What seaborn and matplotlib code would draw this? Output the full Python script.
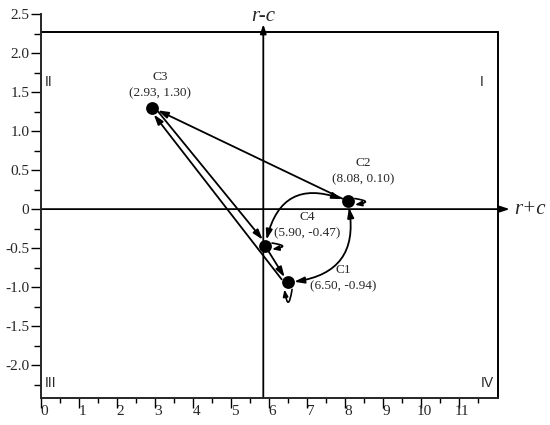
import numpy as np
import pandas as pd
import seaborn as sns
import matplotlib.pyplot as plt
import matplotlib.transforms as mtransforms

clusters = ["C1", "C2", "C3", "C4"]
r_plus_c = [6.50, 8.08, 2.93, 5.90]
r_minus_c = [-0.94, 0.10, 1.30, -0.47]

# straight transitions (from, to)
straight_moves = [("C2", "C3"), ("C1", "C3"), ("C3", "C4"), ("C4", "C1")]
# curved two-way links (a, b, bend)
curved_moves = [("C4", "C2", -0.6), ("C1", "C2", 0.55)]
# clusters that keep their state
stay_moves = ["C1", "C2", "C4"]

quadrants = ["I", "II", "III", "IV"]
x_ticks = list(range(0, 12))
x_tick_labels = [str(v) for v in x_ticks]
y_ticks = [-2.0, -1.5, -1.0, -0.5, 0, 0.5, 1.0, 1.5, 2.0, 2.5]
y_tick_labels = ["-2.0", "-1.5", "-1.0", "-0.5", "0", "0.5", "1.0", "1.5", "2.0", "2.5"]

df = pd.DataFrame({"cluster": clusters, "r_plus_c": r_plus_c, "r_minus_c": r_minus_c})
pos = {c: (x, y) for c, x, y in zip(clusters, r_plus_c, r_minus_c)}
x_mean = np.mean(r_plus_c)

sns.set_theme(style="ticks")
plt.rcParams['font.family'] = ['Liberation Serif', 'DejaVu Serif']

fig = plt.figure(figsize=(5.5, 4.25), dpi=100)
ax = fig.add_axes([41 / 550, 27 / 425, 471 / 550, 384 / 425])

x_lo, x_box, x_hi = 0, 12.03, 12.4
y_lo, y_box, y_hi = -2.42, 2.27, 2.5

sns.scatterplot(data=df, x="r_plus_c", y="r_minus_c", color="black", s=85,
                linewidth=0, ax=ax, legend=False, zorder=5)
ax.set_xlabel("")
ax.set_ylabel("")
ax.set_xlim(x_lo, x_hi)
ax.set_ylim(y_lo, y_hi)

# frame
for s in ["top", "right"]:
    ax.spines[s].set_visible(False)
ax.spines["bottom"].set_bounds(x_lo, x_box)
ax.spines["left"].set_linewidth(1.4)
ax.spines["bottom"].set_linewidth(1.4)
ax.plot([x_lo, x_box], [y_box, y_box], color="black", lw=1.4, clip_on=False)
ax.plot([x_box, x_box], [y_lo, y_box], color="black", lw=1.4, clip_on=False)

# ticks
ax.set_xticks(x_ticks)
ax.set_xticklabels(x_tick_labels)
ax.set_xticks(np.arange(0.5, 12, 1.0), minor=True)
ax.set_yticks(y_ticks)
ax.set_yticklabels(y_tick_labels)
ax.set_yticks(np.arange(-2.25, 2.5, 0.5), minor=True)
ax.tick_params(axis="both", which="both", direction="out", width=1, color="black", labelsize=11)
ax.tick_params(axis="x", which="major", length=7, pad=-2)
ax.tick_params(axis="x", which="minor", length=3.5)
ax.tick_params(axis="y", which="major", length=7, pad=1.5)
ax.tick_params(axis="y", which="minor", length=5)
shift = mtransforms.ScaledTranslation(2.5 / 72, 0, fig.dpi_scale_trans)
for lab in ax.get_xticklabels():
    lab.set_transform(lab.get_transform() + shift)

# r+c / r-c axes
axis_arrow = dict(arrowstyle="-|>,head_length=0.45,head_width=0.15", color="black",
                  lw=1.3, shrinkA=0, shrinkB=0, mutation_scale=12)
ax.annotate("", xy=(12.34, 0), xytext=(x_lo, 0), arrowprops=axis_arrow, zorder=2)
ax.annotate("", xy=(x_mean, 2.37), xytext=(x_mean, y_lo), arrowprops=axis_arrow, zorder=2)
ax.text(12.87, 0, "r+c", fontsize=15, style="italic", ha="center", va="center")
ax.text(x_mean, 2.47, "r-c", fontsize=15, style="italic", ha="center", va="center")

# quadrant marks
qfont = dict(family=["Liberation Sans", "DejaVu Sans"], fontsize=10)
ax.text(11.6, 1.63, quadrants[0], ha="center", va="center", **qfont)
ax.text(0.1, 1.63, quadrants[1], ha="left", va="center", **qfont)
ax.text(0.1, -2.23, quadrants[2], ha="left", va="center", **qfont)
ax.text(11.92, -2.23, quadrants[3], ha="right", va="center", **qfont)

# transitions
move_arrow = dict(color="black", lw=1.3, shrinkA=4.5, shrinkB=4.5, mutation_scale=12)
head = "-|>,head_length=0.5,head_width=0.16"
# side shift (px) so the two C3 paths run side by side
lane = {("C1", "C3"): 3.0, ("C3", "C4"): 2.0}
for a, b in straight_moves:
    pa = ax.transData.transform(pos[a])
    pb = ax.transData.transform(pos[b])
    u = (pb - pa) / np.hypot(*(pb - pa))
    n = np.array([-u[1], u[0]]) * lane.get((a, b), 0.0)
    ax.annotate("", xy=pb + n, xycoords="figure pixels", xytext=pa + n, textcoords="figure pixels",
                arrowprops=dict(arrowstyle=head, **move_arrow), zorder=3)
for a, b, bend in curved_moves:
    ax.annotate("", xy=pos[b], xytext=pos[a],
                arrowprops=dict(arrowstyle="<|-|>,head_length=0.5,head_width=0.16",
                                connectionstyle=f"arc3,rad={bend}", **move_arrow), zorder=3)

# small self loops: (tail offset, head offset) in points from the dot centre
loop_ends = {"C1": ((3, -5), (-2.5, -5)), "C2": ((5, 2), (5, -2.5)), "C4": ((5, 2), (5, -2.5))}
for c in stay_moves:
    (tx, ty), (hx, hy) = loop_ends[c]
    ax.annotate("", xy=pos[c], xycoords=mtransforms.offset_copy(ax.transData, fig, hx, hy, units="points"),
                xytext=pos[c], textcoords=mtransforms.offset_copy(ax.transData, fig, tx, ty, units="points"),
                arrowprops=dict(arrowstyle="-|>,head_length=0.4,head_width=0.15", color="black",
                                lw=1.2, shrinkA=0, shrinkB=0, mutation_scale=10,
                                connectionstyle="arc3,rad=-3.2"), zorder=6)

# cluster labels
label_offsets = {"C1": (40, 3), "C2": (11, 22), "C3": (5.5, 16), "C4": (30, 15)}
for c, x, y in zip(clusters, r_plus_c, r_minus_c):
    ax.annotate(f"{c}\n({x:.2f}, {y:.2f})", xy=(x, y), xytext=label_offsets[c],
                textcoords="offset points", ha="center", va="center",
                fontsize=9.5, linespacing=1.45, zorder=6)

fig.savefig("out.png", dpi=100)
